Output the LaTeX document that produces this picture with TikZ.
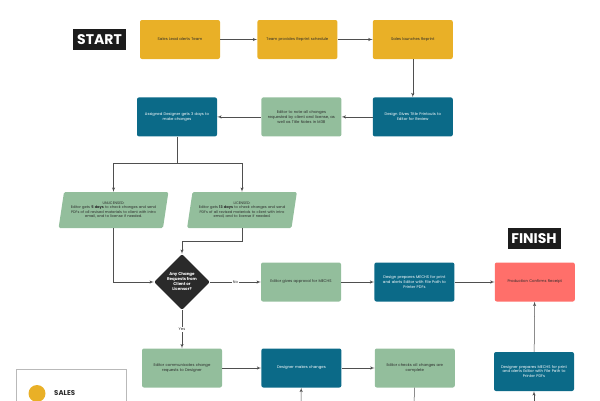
\documentclass[tikz,border=0pt]{standalone}
\usepackage{fontspec}
\setmainfont{Poppins}
\usetikzlibrary{shapes,arrows}
\usetikzlibrary{positioning}
\definecolor{salesyellow}{HTML}{E9B027}
\definecolor{designteal}{HTML}{0B6A88}
\definecolor{editorgreen}{HTML}{93BE9C}
\definecolor{prodred}{HTML}{FF6F6A}
\definecolor{titleblack}{HTML}{1C1C1C}
\definecolor{decisiondark}{HTML}{2A2A2A}
\definecolor{textdark}{HTML}{2B2B2B}
\definecolor{flowgray}{HTML}{4F4F4F}
\tikzset{>=latex', minimum size=0pt, node distance=1cm, font=\fontsize{3.8}{4.8}\selectfont}
\tikzstyle{sales} = [fill=salesyellow, rectangle, rounded corners=2pt, minimum height=39pt, minimum width=80pt, text width=76pt, inner sep=1pt, align=center, text=textdark]
\tikzstyle{design} = [sales, fill=designteal, text=white]
\tikzstyle{editor} = [sales, fill=editorgreen]
\tikzstyle{prod} = [sales, fill=prodred]
\tikzstyle{route} = [trapezium, trapezium left angle=74, trapezium right angle=106, trapezium stretches body, fill=editorgreen, rounded corners=1.5pt, minimum height=36pt, text width=97pt, inner sep=1pt, align=center, text=textdark, font=\fontsize{3.6}{4.6}\selectfont]
\tikzstyle{choice} = [diamond, aspect=1, fill=decisiondark, rounded corners=2pt, minimum size=56pt, inner sep=0pt, align=center, text=white, font=\fontsize{4}{5}\selectfont\bfseries]
\tikzstyle{title} = [fill=titleblack, text=white, minimum width=53pt, minimum height=21pt, inner sep=0pt, font=\fontsize{14}{14}\selectfont\bfseries]
\tikzstyle{answer} = [fill=white, inner sep=1pt, text=textdark]
\tikzstyle{flow} = [draw=flowgray, line width=0.5pt]
\tikzstyle{input} = [coordinate]

\begin{document}
\begin{tikzpicture}[x=1pt, y=-1pt]
		\useasboundingbox (0,0) rectangle (600,400);
		\clip (0,0) rectangle (600,400);

		% top row: sales
		\node [title] (start) at (99.5,39.5) {START};
		\node [sales] (lead) at (180,39.5) {Sales Lead alerts Team};
		\node [sales, right=37pt of lead] (schedule) {Team provides Reprint schedule};
		\node [sales, right=35pt of schedule] (launch) {Sales launches Reprint};

		% second row
		\node [design, below=38pt of launch] (printouts) {Design Gives Title Printouts to\\Editor for Review};
		\node [editor, left=31pt of printouts] (notes) {Editor to note all changes\\requested by client and license, as\\well as Title Notes in M38};
		\node [design, left=44pt of notes] (assigned) {Assigned Designer gets 3 days to\\make changes};

		% review by licence
		\node [route] (unlic) at (113.5,210) {UNLICENSED:\\Editor gets \textbf{5 days} to check changes and send\\PDFs of all revised materials to client with intro\\email, and to license if needed.};
		\node [route] (lic) at (242,210) {LICENSED:\\Editor gets \textbf{13 days} to check changes and send\\PDFs of all revised materials to client with intro\\email, and to license if needed.};
		\node [input, below=27pt of assigned.south] (split) {};
		\node [input, below=13pt of lic.south] (lic_bend) {};

		\node [choice] (decision) at (182,282) {Any Change\\Requests from\\Client or\\Licensor?};

		% no changes
		\node [editor] (approval) at (301,282) {Editor gives approval for MECHS};
		\node [design, right=33pt of approval] (mechs) {Design prepares MECHS for print\\and alerts Editor with File Path to\\Printer PDFs};
		\node [prod, right=40pt of mechs] (receipt) {Production Confirms Receipt};
		\node [title] (finish) at (534,238.5) {FINISH};

		% changes
		\node [editor] (communicate) at (182,368) {Editor communicates change\\requests to Designer};
		\node [design, right=39pt of communicate] (makes) {Designer makes changes};
		\node [editor, right=33pt of makes] (checks) {Editor checks all changes are\\complete};
		\node [design] (prepare) at (534,371.5) {Designer prepares MECHS for print\\and alerts Editor with File Path to\\Printer PDFs};

		\node [input] (makes_in) at (301,410) {};
		\node [input] (checks_out) at (414,410) {};
		\node [input] (prepare_in) at (534,410) {};

		% legend
		\node [draw=gray!55, line width=0.5pt, minimum width=110pt, minimum height=60pt, anchor=north west] (legend_box) at (16,369) {};
		\node [circle, fill=salesyellow, minimum size=17pt, inner sep=0pt] (sales_dot) at (37,393.5) {};
		\node [right=5pt of sales_dot, text=textdark, font=\fontsize{7}{7}\selectfont\bfseries] (sales_key) {SALES};

		\draw [flow, ->] (lead) -- (schedule);
		\draw [flow, ->] (schedule) -- (launch);
		\draw [flow, ->] (launch) -- (printouts);
		\draw [flow, ->] (printouts) -- (notes);
		\draw [flow, ->] (notes) -- (assigned);

		\draw [flow] (assigned) -- (split);
		\draw [flow, ->] (split) -| (unlic.north);
		\draw [flow, ->] (split) -| (lic.north);

		\draw [flow, ->] (unlic.south) |- (decision.west);
		\draw [flow, ->] (lic.south) -- (lic_bend) -| (decision.north);

		\draw [flow, ->] (decision) -- node [answer] {No} (approval);
		\draw [flow, ->] (decision) -- node [answer] {Yes} (communicate);

		\draw [flow, ->] (approval) -- (mechs);
		\draw [flow, ->] (mechs) -- (receipt);
		\draw [flow, ->] (prepare) -- (receipt);

		\draw [flow, ->] (communicate) -- (makes);
		\draw [flow, ->] (makes) -- (checks);
		\draw [flow, ->] (makes_in) -- (makes);
		\draw [flow] (checks) -- (checks_out);
		\draw [flow, ->] (prepare_in) -- (prepare);
	\end{tikzpicture}
\end{document}
